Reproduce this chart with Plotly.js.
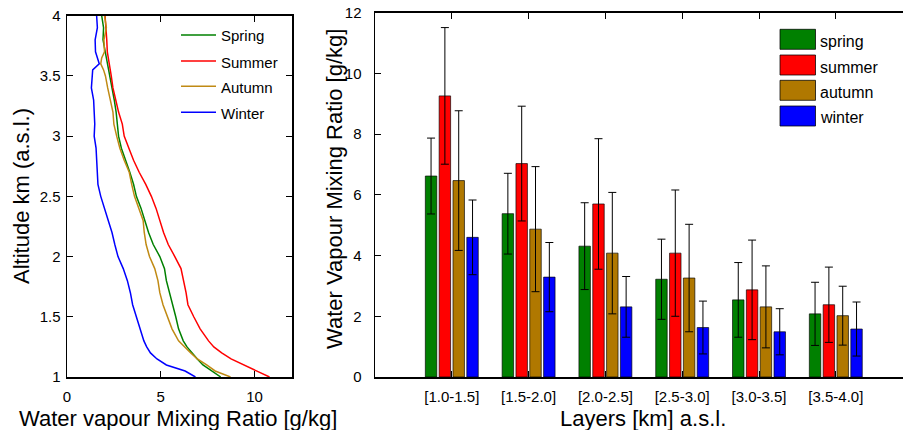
<!DOCTYPE html>
<html><head><meta charset="utf-8">
<script src="https://cdn.plot.ly/plotly-3.0.1.min.js"></script>
<style>html,body{margin:0;padding:0;background:#fff;}#chart{width:903px;height:430px;}</style>
</head><body><div id="chart"></div>
<script>
// ---- Left panel: seasonal mean profiles ----
const altitude = [1.0,1.05,1.1,1.15,1.2,1.25,1.3,1.4,1.5,1.6,1.7,1.8,1.9,2.0,2.1,2.2,2.3,2.4,2.5,2.6,2.7,2.8,2.9,3.0,3.1,3.2,3.3,3.4,3.5,3.55,3.6,3.65,3.7,3.8,3.9,4.0];
const profSpring = [8.2,7.7,7.25,6.95,6.65,6.4,6.2,5.95,5.8,5.62,5.45,5.3,5.2,4.95,4.6,4.35,4.15,3.95,3.7,3.55,3.35,3.12,2.9,2.75,2.7,2.62,2.52,2.4,2.26,2.2,2.15,2.12,2.05,1.92,1.95,1.85];
const profSummer = [10.8,10.1,9.43,8.75,8.25,7.83,7.55,7.1,6.76,6.45,6.35,6.22,6.08,5.75,5.4,5.15,4.95,4.75,4.5,4.2,3.85,3.55,3.3,3.05,2.95,2.75,2.6,2.45,2.36,2.3,2.25,2.2,2.15,2.12,2.08,2.03];
const profAutumn = [8.72,7.9,7.45,6.95,6.6,6.25,5.95,5.6,5.35,5.12,4.95,4.85,4.68,4.4,4.22,4.12,4.06,3.82,3.6,3.45,3.32,3.05,2.82,2.65,2.5,2.45,2.3,2.17,2.05,1.95,1.8,1.85,2.0,1.97,2.1,2.0];
const profWinter = [6.85,6.3,5.3,4.8,4.45,4.25,4.1,3.9,3.68,3.5,3.38,3.22,3.0,2.72,2.55,2.4,2.2,2.0,1.8,1.65,1.62,1.58,1.55,1.45,1.48,1.45,1.42,1.3,1.33,1.37,1.72,1.6,1.52,1.5,1.62,1.58];
const profileNames = ['Spring','Summer','Autumn','Winter'];

// ---- Right panel: layer means and std ----
const layers = ['[1.0-1.5]','[1.5-2.0]','[2.0-2.5]','[2.5-3.0]','[3.0-3.5]','[3.5-4.0]'];
const barNames = ['spring','summer','autumn','winter'];
const meanSpring = [6.62,5.38,4.31,3.22,2.54,2.08];
const meanSummer = [9.26,7.03,5.70,4.08,2.87,2.38];
const meanAutumn = [6.47,4.87,4.08,3.26,2.31,2.02];
const meanWinter = [4.60,3.29,2.31,1.63,1.49,1.58];
const sdSpring = [1.25,1.33,1.43,1.32,1.23,1.04];
const sdSummer = [2.25,1.89,2.15,2.08,1.64,1.24];
const sdAutumn = [2.30,2.06,2.00,1.77,1.35,0.97];
const sdWinter = [1.23,1.14,1.00,0.87,0.76,0.89];

const lineColors = ['#008000','#ff0000','#c08a14','#0000ff'];
const barColors = ['#008000','#ff0000','#b07800','#0000ff'];

const W = 903, H = 430;
const px = x => x / W;
const py = y => (H - y) / H;
const FONT = 'Liberation Sans, Arial, Helvetica, sans-serif';

const profiles = [profSpring, profSummer, profAutumn, profWinter];
const means = [meanSpring, meanSummer, meanAutumn, meanWinter];
const sds = [sdSpring, sdSummer, sdAutumn, sdWinter];

const traces = [];
profiles.forEach((p, i) => traces.push({
  type: 'scatter', mode: 'lines', x: p, y: altitude, name: profileNames[i],
  xaxis: 'x', yaxis: 'y', line: {color: lineColors[i], width: 1.5}, showlegend: false, hoverinfo: 'skip'
}));
means.forEach((m, i) => traces.push({
  type: 'bar', x: layers, y: m, name: barNames[i], xaxis: 'x2', yaxis: 'y2', showlegend: false,
  marker: {color: barColors[i], line: {color: 'rgba(0,0,0,0.65)', width: 1}},
  error_y: {type: 'data', array: sds[i], visible: true, color: '#000', thickness: 1, width: 4}
}));

const shapes = [], annotations = [];
// left legend (lines)
const leftLegY = [35, 61, 86.3, 112.3];
profileNames.forEach((n, i) => {
  shapes.push({type: 'line', xref: 'paper', yref: 'paper', x0: px(181), x1: px(216), y0: py(leftLegY[i]), y1: py(leftLegY[i]),
    line: {color: lineColors[i], width: 1.5}});
  annotations.push({xref: 'paper', yref: 'paper', x: px(219), y: py(leftLegY[i] + 1), xanchor: 'left', yanchor: 'middle',
    text: n, showarrow: false, font: {size: 15, color: '#000', family: FONT}});
});
// right legend (patches)
const rightLegY = [39.3, 65, 90.3, 116];
barNames.forEach((n, i) => {
  shapes.push({type: 'rect', xref: 'paper', yref: 'paper', x0: px(780), x1: px(815.5), y0: py(rightLegY[i] - 10), y1: py(rightLegY[i] + 10),
    fillcolor: barColors[i], line: {color: 'rgba(0,0,0,0.75)', width: 1}});
  annotations.push({xref: 'paper', yref: 'paper', x: px(818), y: py(rightLegY[i] + 2), xanchor: 'left', yanchor: 'middle',
    text: n, showarrow: false, font: {size: 16, color: '#000', family: FONT}});
});
// axis titles
const titleFont = {size: 22, color: '#000', family: FONT};
annotations.push({xref: 'paper', yref: 'paper', x: px(22), y: py(196), textangle: -90, xanchor: 'center', yanchor: 'middle',
  text: 'Altitude km (a.s.l.)', showarrow: false, font: titleFont});
annotations.push({xref: 'paper', yref: 'paper', x: px(178), y: py(418), xanchor: 'center', yanchor: 'middle',
  text: 'Water vapour Mixing Ratio [g/kg]', showarrow: false, font: titleFont});
annotations.push({xref: 'paper', yref: 'paper', x: px(335), y: py(189), textangle: -90, xanchor: 'center', yanchor: 'middle',
  text: 'Water Vapour Mixing Ratio [g/kg]', showarrow: false, font: titleFont});
annotations.push({xref: 'paper', yref: 'paper', x: px(643), y: py(418), xanchor: 'center', yanchor: 'middle',
  text: 'Layers [km] a.s.l.', showarrow: false, font: titleFont});

const tickFont = {size: 15, color: '#000', family: FONT};
const axBase = {showgrid: false, zeroline: false, showline: true, linecolor: '#000', linewidth: 1.5,
  ticks: 'inside', ticklen: 6, tickcolor: '#000', tickwidth: 1, tickfont: tickFont, fixedrange: true};

const layout = {
  width: W, height: H, margin: {l: 0, r: 0, t: 0, b: 0},
  paper_bgcolor: '#fff', plot_bgcolor: '#fff', showlegend: false,
  font: {family: FONT, color: '#000'},
  barmode: 'group', bargap: 0.28, bargroupgap: 0.17,
  xaxis: Object.assign({}, axBase, {domain: [px(67), px(292)], range: [0, 12], tickvals: [0, 5, 10], mirror: 'ticks', anchor: 'y', ticklabelstandoff: 5}),
  yaxis: Object.assign({}, axBase, {domain: [py(377), py(15.7)], range: [1, 4], tickvals: [1, 1.5, 2, 2.5, 3, 3.5, 4], ticktext: ['1','1.5','2','2.5','3','3.5','4'], mirror: 'ticks', anchor: 'x', ticklabelstandoff: 2}),
  xaxis2: Object.assign({}, axBase, {domain: [px(375), 1], range: [-1, 5.875], type: 'category', mirror: 'ticks', anchor: 'y2', tickfont: {size: 15, color: '#000', family: FONT}, ticklabelstandoff: 5}),
  yaxis2: Object.assign({}, axBase, {domain: [py(377), py(12.7)], range: [0, 12], dtick: 2, mirror: false, anchor: 'x2', ticklabelstandoff: 9}),
  shapes: shapes, annotations: annotations
};

Plotly.newPlot('chart', traces, layout, {displayModeBar: false, staticPlot: true});
</script>
</body></html>
